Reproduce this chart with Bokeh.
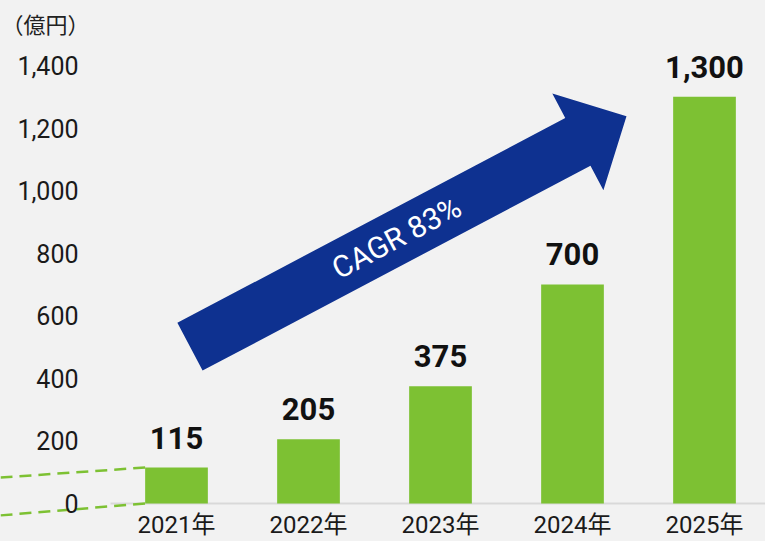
import math
from bokeh.plotting import figure
from bokeh.models import Range1d, FixedTicker, NumeralTickFormatter, Label
from bokeh.core.properties import value
from bokeh.embed import file_html
from bokeh.resources import INLINE

# ---- data ----
years = ["2021年", "2022年", "2023年", "2024年", "2025年"]
sales = [115, 205, 375, 700, 1300]
sales_labels = ["115", "205", "375", "700", "1,300"]
y_ticks = [0, 200, 400, 600, 800, 1000, 1200, 1400]
unit_label = "（億円）"
cagr_label = "CAGR 83%"

# ---- layout (frame covers the whole canvas) ----
W, H = 765, 541
PX_X = 132.0          # pixels per category
PX_Y = 0.31286        # pixels per 億円
X_START = -1.0 / 3.0
X_END = X_START + W / PX_X
Y_START = -121.5
Y_END = Y_START + H / PX_Y

GREEN = "#7dc133"
BLUE = "#0e3190"
BG = "#f2f2f2"
BAR_W = 0.475
TEXT = "#1a1a1a"

xs = list(range(1, len(years) + 1))

p = figure(width=W, height=H, x_range=Range1d(X_START, X_END),
           y_range=Range1d(Y_START, Y_END),
           output_backend="svg", toolbar_location=None,
           min_border_left=0, min_border_right=0, min_border_top=0,
           min_border_bottom=0)
p.background_fill_color = BG
p.border_fill_color = BG
p.outline_line_color = None
p.xgrid.visible = False
p.ygrid.visible = False

# baseline at zero under the categories
p.segment(x0=[xs[0] - 0.5], y0=[0], x1=[X_END], y1=[0],
          line_color="#d9d9d9", line_width=2)

# bars
p.vbar(x=xs, top=sales, bottom=0, width=BAR_W, color=GREEN, line_color=None)

# value labels
p.text(x=xs, y=sales, text=sales_labels, text_align="center",
       text_baseline="alphabetic", y_offset=-30,
       text_font=value("Roboto"), text_font_style="bold",
       text_font_size="31px", text_color="#111111")

# big arrow (defined by tail centre, tip, widths) -- computed in pixel space
tail = (1.102, 501.0)
tip = (4.409, 1238.0)
half_shaft, half_head, head_len = 27.0, 54.7, 55.0
tx, ty = tail[0] * PX_X, tail[1] * PX_Y
hx, hy = tip[0] * PX_X, tip[1] * PX_Y
L = math.hypot(hx - tx, hy - ty)
ux, uy = (hx - tx) / L, (hy - ty) / L
nx, ny = -uy, ux
bx, by = hx - ux * head_len, hy - uy * head_len
pts = [
    (tx + nx * half_shaft, ty + ny * half_shaft),
    (bx + nx * half_shaft, by + ny * half_shaft),
    (bx + nx * half_head, by + ny * half_head),
    (hx, hy),
    (bx - nx * half_head, by - ny * half_head),
    (bx - nx * half_shaft, by - ny * half_shaft),
    (tx - nx * half_shaft, ty - ny * half_shaft),
]
p.patch(x=[a / PX_X for a, b in pts], y=[b / PX_Y for a, b in pts],
        fill_color=BLUE, line_color=None)
angle = math.atan2(uy, ux)
p.text(x=[2.667], y=[850], text=[cagr_label], angle=angle,
       text_align="center", text_baseline="middle", text_color="white",
       text_font=value("Roboto"), text_font_size="30px")

# dashed guide lines to the 2021 bar
bar_left = xs[0] - BAR_W / 2
p.segment(x0=[X_START, X_START], y0=[83, -38],
          x1=[bar_left, bar_left], y1=[sales[0], 0],
          line_color=GREEN, line_width=2.5, line_dash="12 7")

# unit label
p.add_layout(Label(x=-0.326, y=1537, text=unit_label, text_baseline="middle",
                   text_font="Noto Sans CJK JP", text_font_size="22px",
                   text_color="#222222"))

# axes: labels pushed into the frame with negative standoffs
p.yaxis.ticker = FixedTicker(ticks=y_ticks)
p.yaxis.formatter = NumeralTickFormatter(format="0,0")
p.yaxis.axis_line_color = None
p.yaxis.major_tick_line_color = None
p.yaxis.minor_tick_line_color = None
p.yaxis.major_tick_out = 0
p.yaxis.major_tick_in = 0
p.yaxis.major_label_standoff = -78
p.yaxis.major_label_text_font = "Roboto"
p.yaxis.major_label_text_font_size = "25px"
p.yaxis.major_label_text_color = TEXT

p.xaxis.ticker = FixedTicker(ticks=xs)
p.xaxis.major_label_overrides = {x: y for x, y in zip(xs, years)}
p.xaxis.axis_line_color = None
p.xaxis.major_tick_line_color = None
p.xaxis.minor_tick_line_color = None
p.xaxis.major_tick_out = 0
p.xaxis.major_tick_in = 0
p.xaxis.major_label_standoff = -31
p.xaxis.major_label_text_font = "Roboto, 'Noto Sans CJK JP', sans-serif"
p.xaxis.major_label_text_font_size = "24px"
p.xaxis.major_label_text_color = TEXT

html = file_html(p, INLINE)
html = html.replace("<head>", "<head><style>html,body{background:#f2f2f2;}</style>", 1)
open("out.html", "w").write(html)
